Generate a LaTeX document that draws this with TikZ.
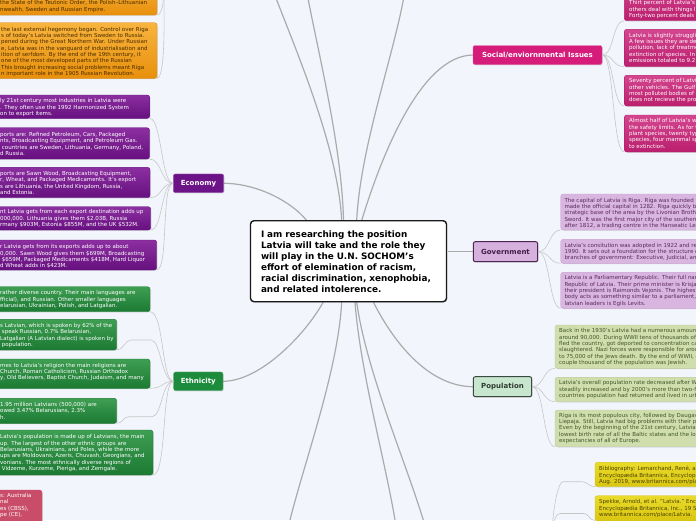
\documentclass[tikz,border=0pt]{standalone}
\usepackage{fontspec}
\setmainfont{DejaVu Sans}
\usetikzlibrary{shadows}
\definecolor{bg}{HTML}{F2F5FC}
\definecolor{mainline}{HTML}{ABABAB}
\definecolor{kidline}{HTML}{C6C6C6}
\definecolor{otop}{HTML}{F8B43E}
\definecolor{obot}{HTML}{E8900C}
\definecolor{odraw}{HTML}{D98A12}
\definecolor{otext}{HTML}{4A2C00}
\definecolor{ptop}{HTML}{8C2FA0}
\definecolor{pbot}{HTML}{671080}
\definecolor{pmain}{HTML}{6C1387}
\definecolor{gtop}{HTML}{3E9E52}
\definecolor{gbot}{HTML}{1C7A33}
\definecolor{gmain}{HTML}{1C8B3B}
\definecolor{stop}{HTML}{D4468F}
\definecolor{sbot}{HTML}{BA1F6E}
\definecolor{smain}{HTML}{D51C7B}
\definecolor{govfill}{HTML}{D8B6DF}
\definecolor{govdraw}{HTML}{C9A3D1}
\definecolor{govtext}{HTML}{5A2A60}
\definecolor{govmain}{HTML}{D7B1DE}
\definecolor{govborder}{HTML}{4E2656}
\definecolor{popfill}{HTML}{D0DDAC}
\definecolor{popdraw}{HTML}{BDCB97}
\definecolor{poptext}{HTML}{41582C}
\definecolor{popmain}{HTML}{C8E6CE}
\definecolor{popborder}{HTML}{3B4A3F}
\definecolor{ytop}{HTML}{EADB2A}
\definecolor{ybot}{HTML}{D9C612}
\definecolor{ytext}{HTML}{4A4200}
\definecolor{rfill}{HTML}{C94D68}
\tikzset{
  mline/.style={draw=mainline, line width=1.2pt},
  kline/.style={draw=kidline, line width=0.6pt},
  txt/.style={inner sep=0pt, anchor=north west, align=left, font=\fontsize{5.5}{6.35}\selectfont},
  box/.style={rounded corners=2.5pt, line width=0.4pt, drop shadow={shadow xshift=0.8pt, shadow yshift=-0.8pt, opacity=0.22}},
  obox/.style={box, top color=otop, bottom color=obot, draw=odraw},
  pbox/.style={box, top color=ptop, bottom color=pbot, draw=pbot},
  gbox/.style={box, top color=gtop, bottom color=gbot, draw=gbot},
  sbox/.style={box, top color=stop, bottom color=sbot, draw=sbot},
  govbox/.style={box, fill=govfill, draw=govdraw},
  popbox/.style={box, fill=popfill, draw=popdraw},
  ybox/.style={box, top color=ytop, bottom color=ybot, draw=ybot},
  rbox/.style={box, fill=rfill, draw=rfill},
  branch/.style={rounded corners=2pt, inner sep=0pt, font=\fontsize{7}{8}\selectfont\bfseries, drop shadow={shadow xshift=0.8pt, shadow yshift=-0.8pt, opacity=0.25}},
  central/.style={draw=black!90, line width=1.4pt, fill=white, rounded corners=3.5pt, minimum width=196pt, minimum height=81pt, text width=175pt, align=left, inner xsep=10.5pt, font=\fontsize{8.85}{11}\selectfont\bfseries, drop shadow={shadow xshift=0.8pt, shadow yshift=-0.8pt, opacity=0.25}}
}
\begin{document}
\begin{tikzpicture}[x=1pt,y=-1pt]
\useasboundingbox (0,0) rectangle (696,520);
\fill[bg] (0,0) rectangle (696,520);

% ---------- central connectors (drawn first) ----------
\coordinate (cA) at (341.7,220.5); \coordinate (tA) at (276.7,0);
\coordinate (cB) at (343.5,220.5); \coordinate (tB) at (308.3,0);
\coordinate (cC) at (356.7,220.5); \coordinate (tC) at (403.3,0);
\coordinate (cS) at (361.7,220.5);
\coordinate (cE) at (306.7,220.5);
\coordinate (cG) at (447.5,251.7);
\coordinate (cEt) at (323.3,302);
\coordinate (cD) at (341.7,302); \coordinate (bD) at (290,520);
\coordinate (cF) at (355,302); \coordinate (bF) at (395,520);
\coordinate (cH) at (356.7,302); \coordinate (bH) at (423.3,520);
\coordinate (cP) at (373.3,302);
\coordinate (socW) at (473.3,55); \coordinate (ecoE) at (223.7,183.3);
\coordinate (govW) at (473.3,251.7); \coordinate (ethE) at (223,381.3); \coordinate (popW) at (473.3,386.7);
\draw[mline] (cA) .. controls (338,150) and (300,60) .. (tA);
\draw[mline] (cB) .. controls (342,150) and (320,60) .. (tB);
\draw[mline] (cC) .. controls (360,150) and (392,60) .. (tC);
\draw[mline] (cS) .. controls (380,160) and (420,55) .. (socW);
\draw[mline] (ecoE) .. controls (255,183.3) and (290,200) .. (cE);
\draw[mline] (cG) -- (govW);
\draw[mline] (cEt) .. controls (305,335) and (260,381.3) .. (ethE);
\draw[mline] (cD) .. controls (338,370) and (305,460) .. (bD);
\draw[mline] (cF) .. controls (360,370) and (385,460) .. (bF);
\draw[mline] (cH) .. controls (366,370) and (405,460) .. (bH);
\draw[mline] (cP) .. controls (395,345) and (430,386.7) .. (popW);

% ---------- main nodes ----------
\node[central] (c) at (348.5,261.2) {I am researching the position\\Latvia will take and the role they\\will play in the U.N. SOCHOM's\\effort of elemination of racism,\\racial discrimination, xenophobia,\\and related intolerence.};
\node[branch, fill=smain, draw=smain!70!white, text=white, minimum width=129pt, minimum height=19pt] (social) at (537.5,55) {Social/enviornmental Issues};
\node[branch, fill=pmain, draw=pmain!70!white, text=white, minimum width=50.4pt, minimum height=18.7pt] (economy) at (198.5,183.3) {Economy};
\node[branch, fill=govmain, draw=govborder, line width=1pt, text=govborder!80!black, minimum width=64.4pt, minimum height=20pt] (government) at (505.5,251.7) {Government};
\node[branch, fill=gmain, draw=gmain!70!white, text=white, minimum width=49.3pt, minimum height=18.7pt] (ethnicity) at (198.3,381.3) {Ethnicity};
\node[branch, fill=popmain, draw=popborder, line width=1pt, text=popborder!80!black, minimum width=58.4pt, minimum height=20pt] (population) at (502.5,386.7) {Population};

% ---------- orange (history) ----------
\path[obox] (-20,-20) rectangle (157,15);
\path[obox] (-20,22.7) rectangle (157,78.3);
\coordinate (o1c) at (157,15); \coordinate (o2c) at (157,78.3); \coordinate (oroot) at (164,-30);
\draw[kline] (o1c) .. controls +(8,0) and +(0,15) .. (oroot);
\draw[kline] (o2c) .. controls +(9,0) and +(0,40) .. (oroot);
\node[txt, text=otext] (o1t) at (0,0.5) {the State of the Teutonic Order, the Polish–Lithuanian\\nwealth, Sweden and Russian Empire.};
\node[txt, text=otext] (o2t) at (1,26.8) {the last external hegemony began. Control over Riga\\s of today's Latvia switched from Sweden to Russia.\\pened during the Great Northern War. Under Russian\\e, Latvia was in the vanguard of industrialisation and\\ition of serfdom. By the end of the 19th century, it\\ one of the most developed parts of the Russian\\ This brought increasing social problems meant Riga\\n important role in the 1905 Russian Revolution.};

% ---------- economy ----------
\path[pbox] (-20,95) rectangle (149.7,118.3);
\path[pbox] (-20,127.7) rectangle (149.5,159);
\path[pbox] (-20,167.3) rectangle (150,197.7);
\path[pbox] (-20,206.7) rectangle (150.7,230);
\path[pbox] (-20,240) rectangle (156.7,270);
\coordinate (e1c) at (149.7,118.3); \coordinate (e2c) at (149.5,159); \coordinate (e3c) at (150,197.7);
\coordinate (e4c) at (150.7,230); \coordinate (e5c) at (156.7,270);
\foreach \k in {e1c,e2c,e3c,e4c,e5c}{\draw[kline] (economy.west) .. controls +(-12,0) and +(12,0) .. (\k);}
\node[txt, text=white] (e1t) at (0,98.5) {ly 21st century most industries in Latvia were\\. They often use the 1992 Harmonized System\\on to export items.};
\node[txt, text=white] (e2t) at (0,132.1) {ports are: Refined Petroleum, Cars, Packaged\\nts, Broadcasting Equipment, and Petroleum Gas.\\\ countries are Sweden, Lithuania, Germany, Poland,\\d Russia.};
\node[txt, text=white] (e3t) at (0,171.1) {ports are Sawn Wood, Broadcasting Equipment,\\r, Wheat, and Packaged Medicaments.  It's export\\s are Lithuania, the United Kingdom, Russia,\\and Estonia.};
\node[txt, text=white] (e4t) at (0,209.5) {nt Latvia gets from each export destination adds up\\000,000. Lithuania gives them \$2.03B, Russia\\rmany \$903M, Estonia \$855M, and the UK \$532M.};
\node[txt, text=white] (e5t) at (0,244.5) {r Latvia gets from its exports adds up to about\\0,000. Sawn Wood gives them \$699M, Broadcasting\\\ \$659M, Packaged Medicaments \$418M, Hard Liquor\\d Wheat adds in \$423M.};

% ---------- ethnicity ----------
\path[gbox] (-20,286.7) rectangle (150,311.7);
\path[gbox] (-20,319.3) rectangle (116.7,350);
\path[gbox] (-20,359) rectangle (150,388.3);
\path[gbox] (-20,398.3) rectangle (116.7,423.3);
\path[gbox] (-20,430) rectangle (153,475);
\path[rbox] (-20,490) rectangle (42,540);
\coordinate (t1c) at (150,311.7); \coordinate (t2c) at (116.7,350); \coordinate (t3c) at (150,388.3);
\coordinate (t4c) at (116.7,423.3); \coordinate (t5c) at (153,475);
\coordinate (t2a) at (151,340); \coordinate (t2b) at (131,340);
\coordinate (t4a) at (152,416.7); \coordinate (t4b) at (129,416.7);
\foreach \k in {t1c,t3c,t5c}{\draw[kline] (ethnicity.west) .. controls +(-12,0) and +(14,0) .. (\k);}
\draw[kline] (ethnicity.west) .. controls +(-12,0) and +(10,0) .. (t2a) -- (t2b) .. controls +(-6,0) and +(7,0) .. (t2c);
\draw[kline] (ethnicity.west) .. controls +(-12,0) and +(10,0) .. (t4a) -- (t4b) .. controls +(-6,0) and +(6,0) .. (t4c);
\node[txt, text=white] (t1t) at (0,290.5) {rather diverse country. Their main languages are\\fficial), and Russian. Other smaller languages\\elarusian, Ukrainian, Polish, and Latgalian.};
\node[txt, text=white] (t2t) at (0,323.1) {s Latvian, which is spoken by 62\% of the\\\ speak Russian, 0.7\% Belarusian,\\Latgalian (A Latvian dialect) is spoken by\\\ population.};
\node[txt, text=white] (t3t) at (0,362.8) {mes to Latvia's religion the main religions are\\Church, Roman Catholicism, Russian Orthodox\\y, Old Believers, Baptist Church, Judaism, and many};
\node[txt, text=white] (t4t) at (0,402.1) {1.95 million Latvians (500,000) are\\owed 3.47\% Belarusians, 2.3\%\\h.};
\node[txt, text=white] (t5t) at (0,434.5) {Latvia's population is made up of Latvians, the main\\up. The largest of the other ethnic groups are\\Belarusians, Ukrainians, and Poles, while the more\\ups are  Moldovans, Azeris, Chuvash, Georgians, and\\vonians.  The most ethnically diverse regions of\\\ Vidzeme, Kurzeme, Pieriga, and Zemgale.};
\node[txt, text=white] (rt) at (0,493.1) {s: Australia\\nal\\es (CBSS),\\pe (CE),};

% ---------- social ----------
\path[sbox] (624.3,-20) rectangle (720,20.7);
\path[sbox] (624.3,29.3) rectangle (720,66.7);
\path[sbox] (624.3,75.3) rectangle (720,106);
\path[sbox] (624.3,115) rectangle (720,152);
\coordinate (s1c) at (624.3,20.7); \coordinate (s2c) at (624.3,66.7); \coordinate (s3c) at (624.3,106); \coordinate (s4c) at (624.3,152);
\foreach \k in {s1c,s2c,s3c,s4c}{\draw[kline] (social.east) .. controls +(12,0) and +(-12,0) .. (\k);}
\node[txt, text=white] (s1t) at (629,0.5) {Thirt percent of Latvia's wor\\others deal with things like\\Forty-two percent deals wit};
\node[txt, text=white] (s2t) at (629,32.8) {Latvia is slightly struggling wi\\A few issues they are dealing\\pollution, lack of treatment o\\extinction of species. In 200\\emissions totaled to 9.2 milli};
\node[txt, text=white] (s3t) at (629,78.5) {Seventy percent of Latvia's ai\\other vehicles. The Gulf of Ri\\most polluted bodies of wate\\does not recieve the proper};
\node[txt, text=white] (s4t) at (629,118.5) {Almost half of Latvia's water\\the safety limits. As for the\\plant species, twenty types o\\species, four mammal specie\\to extinction.};

% ---------- government ----------
\path[govbox] (560.7,194) rectangle (720,230);
\path[govbox] (560.7,239.3) rectangle (720,263.3);
\path[govbox] (560.7,272.3) rectangle (720,308.3);
\coordinate (g1c) at (560.7,230); \coordinate (g2c) at (560.7,263.3); \coordinate (g3c) at (560.7,308.3);
\foreach \k in {g1c,g2c,g3c}{\draw[kline] (government.east) .. controls +(12,0) and +(-12,0) .. (\k);}
\node[txt, text=govtext] (g1t) at (564.3,197.8) {The capital of Latvia is Riga. Riga was founded in\\made the official capital in 1282. Riga quickly beca\\strategic base of the area by the Livonian Brothers\\Sword. It was the first major city of the southern\\after 1812, a trading centre in the Hanseatic Leag};
\node[txt, text=govtext] (g2t) at (564.3,242.8) {Latvia's consitution was adopted in 1922 and rein\\1990. It sets out a foundation for the structure o\\branches of government: Executive, Judicial, and};
\node[txt, text=govtext] (g3t) at (564.3,275.5) {Latvia is a Parliamentary Republic. Their full name\\Republic of Latvia. Their prime minister is Krisjanis\\their president is Raimonds Vejonis. The highest\\body acts as something similar to a parliament, an\\latvian leaders is Egils Levits.};

% ---------- population ----------
\path[popbox] (555,325) rectangle (720,368.3);
\path[popbox] (555,377.3) rectangle (720,401.7);
\path[popbox] (555,410) rectangle (720,446.7);
\coordinate (p1c) at (555,368.3); \coordinate (p2c) at (555,401.7); \coordinate (p3c) at (555,446.7);
\foreach \k in {p1c,p2c,p3c}{\draw[kline] (population.east) .. controls +(12,0) and +(-12,0) .. (\k);}
\node[txt, text=poptext] (p1t) at (559,328.5) {Back in the 1930's Latvia had a numerous amount\\around 90,000. During WWII tens of thousands of\\fled the country, got deported to concentration cam\\slaughtered. Nazi forces were responsible for aroun\\to 75,000 of the Jews death. By the end of WWII, o\\couple thousand of the population was Jewish.};
\node[txt, text=poptext] (p2t) at (559,380.5) {Latvia's overall population rate decreased after WW\\steadily increased and by 2000's more than two-fif\\countries population had returned and lived in urba};
\node[txt, text=poptext] (p3t) at (559,412.8) {Riga is its most populous city, followed by Daugavp\\Liepaja. Still, Latvia had big problems with their po\\Even by the beginning of the 21st century, Latvia ha\\lowest birth rate of all the Baltic states and the lo\\expectancies of all of Europe.};

% ---------- bibliography ----------
\path[ybox] (595,462.3) rectangle (720,486.7);
\path[ybox] (595,495.7) rectangle (720,521);
\coordinate (y1c) at (595,486.7); \coordinate (y2c) at (595,520.5); \coordinate (yroot) at (552,530);
\coordinate (y1a) at (563,481.7); \coordinate (y1b) at (582,481.7);
\coordinate (y2a) at (560,513.5); \coordinate (y2b) at (584,513.5);
\draw[kline] (yroot) .. controls +(2,-30) and +(-4,0) .. (y1a) -- (y1b) .. controls +(5,0) and +(-6,0) .. (y1c);
\draw[kline] (yroot) .. controls +(2,-10) and +(-4,0) .. (y2a) -- (y2b) .. controls +(5,0) and +(-6,0) .. (y2c);
\node[txt, text=ytext] (y1t) at (599,466.1) {Bibliography: Lemarchand, René, an\\Encyclopædia Britannica, Encyclopæd\\Aug. 2019, www.britannica.com/plac};
\node[txt, text=ytext] (y2t) at (599,499.5) {Spekke, Arnold, et al. "Latvia." Ency\\Encyclopædia Britannica, Inc., 19 Se\\www.britannica.com/place/Latvia.};
\end{tikzpicture}
\end{document}
